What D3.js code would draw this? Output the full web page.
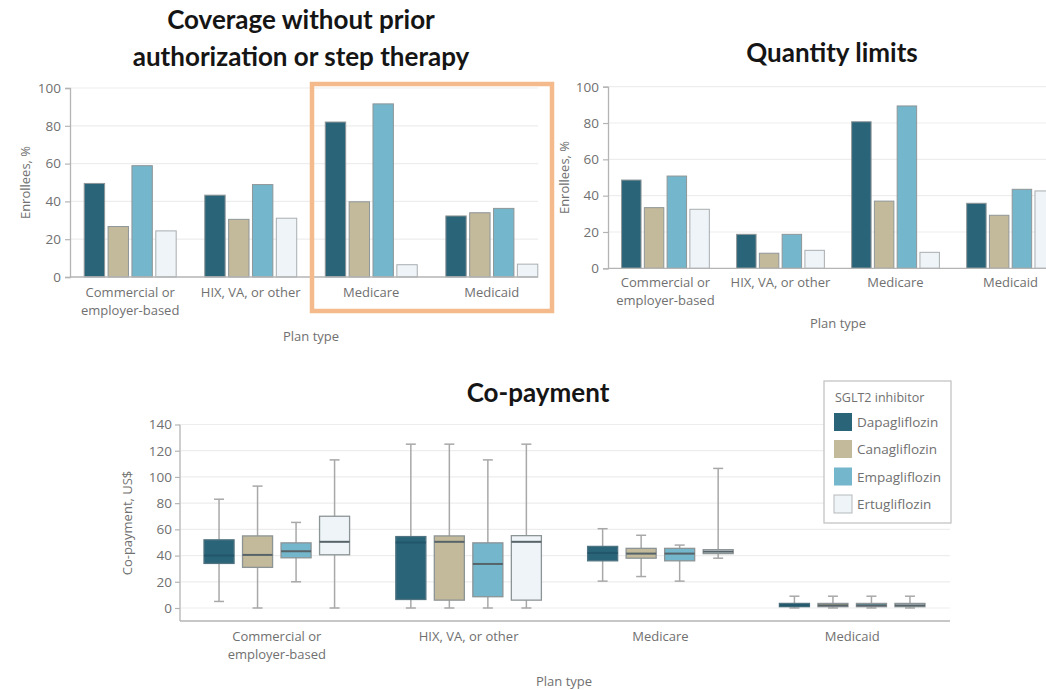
<!DOCTYPE html>
<html>
<head>
<meta charset="utf-8">
<script src="https://cdn.jsdelivr.net/npm/d3@7"></script>
<style>
  html, body { margin: 0; padding: 0; background: #fff; }
  svg { display: block; }
  .tick-label, .cat-label, .axis-title, .legend-text { font-family: "Open Sans", "Noto Sans", sans-serif; fill: #707070; }
  .panel-title { font-family: Lato, "Open Sans", sans-serif; font-weight: 700; fill: #151515; }
</style>
</head>
<body>
<svg id="chart" width="1046" height="690"></svg>
<script>
// Plan types and SGLT2 inhibitors
const plans = ["Commercial or employer-based", "HIX, VA, or other", "Medicare", "Medicaid"];
const planLabelLines = [["Commercial or", "employer-based"], ["HIX, VA, or other"], ["Medicare"], ["Medicaid"]];
const drugs = ["Dapagliflozin", "Canagliflozin", "Empagliflozin", "Ertugliflozin"];
const drugColors = ["#2a6478", "#c3b99b", "#74b6cb", "#eef4f7"];

// Coverage without prior authorization or step therapy, % of enrollees (by plan)
const coverageDapagliflozin = [49.5, 43.3, 82, 32.3];
const coverageCanagliflozin = [26.7, 30.5, 39.8, 34];
const coverageEmpagliflozin = [58.9, 48.9, 91.6, 36.3];
const coverageErtugliflozin = [24.4, 31.1, 6.5, 6.8];

// Quantity limits, % of enrollees (by plan)
const quantityDapagliflozin = [48.6, 18.7, 80.7, 35.8];
const quantityCanagliflozin = [33.4, 8.3, 37, 29.2];
const quantityEmpagliflozin = [50.8, 18.7, 89.4, 43.5];
const quantityErtugliflozin = [32.5, 9.9, 8.8, 42.6];

// Co-payment, US$: [min, Q1, median, Q3, max] for each plan
const copayDapagliflozin = [[5, 34, 40, 52, 83], [0, 6.5, 50, 54.5, 125], [20.5, 36, 42, 47, 60.5], [0, 1, 2, 3.5, 9]];
const copayCanagliflozin = [[0, 31, 40.5, 55, 93], [0, 6, 50.5, 55, 125], [24, 38, 41.5, 45.5, 55.5], [0, 1, 2, 3.5, 9]];
const copayEmpagliflozin = [[20, 38.3, 43.3, 49.7, 65.3], [0, 8.6, 33.6, 49.7, 113], [20.5, 36, 41.5, 45.5, 48], [0, 1, 2, 3.5, 9]];
const copayErtugliflozin = [[0, 40.6, 50.5, 70, 113], [0, 6, 50.5, 55.2, 125], [38, 41.5, 43, 44.5, 106.5], [0, 1, 2, 3.5, 9]];

const percentTicks = [0, 20, 40, 60, 80, 100];
const copayTicks = [0, 20, 40, 60, 80, 100, 120, 140];

const svg = d3.select("#chart");
svg.append("rect").attr("width", 1046).attr("height", 690).attr("fill", "#fff");

const axisColor = "#b4b4b4";
const gridColor = "#ededed";

// Grouped bar panel
function barPanel(opts) {
  const { xRange, yRange, gridEnd, series, labelY, planTypeY, yTitleX, tickGap } = opts;
  const g = svg.append("g");
  const x0 = d3.scaleBand().domain(plans).range(xRange).paddingInner(0.237).paddingOuter(0.118);
  const x1 = d3.scaleBand().domain(drugs).range([0, x0.bandwidth()]).paddingInner(0.145).paddingOuter(0);
  const y = d3.scaleLinear().domain([0, 100]).range(yRange);
  const left = xRange[0];

  // gridlines
  g.selectAll("line.grid").data(percentTicks.slice(1)).join("line")
    .attr("x1", left + 1).attr("x2", gridEnd)
    .attr("y1", d => y(d)).attr("y2", d => y(d))
    .attr("stroke", gridColor).attr("stroke-width", 1.2);

  // bars
  const rows = plans.map((p, i) => drugs.map((dname, j) => ({ plan: p, drug: dname, j, value: series[j][i] })));
  g.selectAll("g.grp").data(rows).join("g")
    .attr("transform", (d, i) => `translate(${x0(plans[i])},0)`)
    .selectAll("rect").data(d => d).join("rect")
    .attr("x", d => x1(d.drug)).attr("width", x1.bandwidth())
    .attr("y", d => y(d.value)).attr("height", d => y(0) - y(d.value))
    .attr("fill", d => drugColors[d.j])
    .attr("stroke", d => d.j === 3 ? "#a9adb0" : "#8f9698").attr("stroke-width", 1);

  // y axis
  const yAxis = d3.axisLeft(y).tickValues(percentTicks).tickSize(5).tickPadding(tickGap);
  const ya = g.append("g").attr("transform", `translate(${left},0)`).call(yAxis);
  ya.select(".domain").attr("stroke", axisColor).attr("stroke-width", 1.3);
  ya.selectAll(".tick line").attr("stroke", axisColor).attr("stroke-width", 1.2);
  ya.selectAll(".tick text").attr("class", "tick-label").attr("font-size", 13.5).style("font-family", null);

  // baseline
  g.append("line").attr("x1", left).attr("x2", gridEnd).attr("y1", y(0)).attr("y2", y(0))
    .attr("stroke", axisColor).attr("stroke-width", 1.3);

  // category labels
  plans.forEach((p, i) => {
    const cx = x0(p) + x0.bandwidth() / 2;
    planLabelLines[i].forEach((line, k) => {
      g.append("text").attr("class", "cat-label").attr("x", cx).attr("y", labelY + k * 18)
        .attr("text-anchor", "middle").attr("font-size", 13).text(line);
    });
  });
  g.append("text").attr("class", "axis-title").attr("x", (xRange[0] + xRange[1]) / 2).attr("y", planTypeY)
    .attr("text-anchor", "middle").attr("font-size", 13).text("Plan type");
  g.append("text").attr("class", "axis-title")
    .attr("transform", `translate(${yTitleX},${(yRange[0] + yRange[1]) / 2}) rotate(-90)`)
    .attr("text-anchor", "middle").attr("font-size", 13).text("Enrollees, %");
}

barPanel({
  xRange: [70, 552], yRange: [277, 88], gridEnd: 538,
  series: [coverageDapagliflozin, coverageCanagliflozin, coverageEmpagliflozin, coverageErtugliflozin],
  labelY: 297, planTypeY: 341, yTitleX: 30, tickGap: 4
});
barPanel({
  xRange: [608, 1068], yRange: [268.3, 86.7], gridEnd: 1046,
  series: [quantityDapagliflozin, quantityCanagliflozin, quantityEmpagliflozin, quantityErtugliflozin],
  labelY: 287, planTypeY: 328, yTitleX: 569, tickGap: 4
});

// Highlight frame around the Medicare and Medicaid coverage groups
svg.append("rect").attr("x", 312).attr("y", 84).attr("width", 240).attr("height", 227)
  .attr("fill", "none").attr("stroke", "#f5ba8b").attr("stroke-width", 4.5);

// Panel titles
svg.append("text").attr("class", "panel-title").attr("x", 301).attr("y", 29).attr("text-anchor", "middle")
  .attr("font-size", 26).text("Coverage without prior");
svg.append("text").attr("class", "panel-title").attr("x", 301).attr("y", 66).attr("text-anchor", "middle")
  .attr("font-size", 26).text("authorization or step therapy");
svg.append("text").attr("class", "panel-title").attr("x", 832).attr("y", 62).attr("text-anchor", "middle")
  .attr("font-size", 26).text("Quantity limits");
svg.append("text").attr("class", "panel-title").attr("x", 538).attr("y", 402).attr("text-anchor", "middle")
  .attr("font-size", 26).text("Co-payment");

// Co-payment box plots
(function () {
  const g = svg.append("g");
  const left = 180, right = 950, axisY = 621;
  const x0 = d3.scaleBand().domain(plans).range([181, 948]).paddingInner(0.241).paddingOuter(0.12);
  const x1 = d3.scaleBand().domain(drugs).range([0, x0.bandwidth()]).paddingInner(0.22).paddingOuter(0);
  const y = d3.scaleLinear().domain([0, 140]).range([608, 424.5]);
  const copay = [copayDapagliflozin, copayCanagliflozin, copayEmpagliflozin, copayErtugliflozin];

  g.selectAll("line.grid").data(copayTicks).join("line")
    .attr("x1", left + 1).attr("x2", right)
    .attr("y1", d => y(d)).attr("y2", d => y(d))
    .attr("stroke", gridColor).attr("stroke-width", 1.2);

  const boxes = [];
  plans.forEach((p, i) => drugs.forEach((dn, j) => {
    const s = copay[j][i];
    boxes.push({ plan: p, drug: dn, j, min: s[0], q1: s[1], med: s[2], q3: s[3], max: s[4] });
  }));

  const bg = g.selectAll("g.box").data(boxes).join("g")
    .attr("transform", d => `translate(${x0(d.plan) + x1(d.drug)},0)`);
  const bw = x1.bandwidth();
  const capW = 10;
  const whiskerColor = "#a8a8a8";
  bg.append("line").attr("x1", bw / 2).attr("x2", bw / 2)
    .attr("y1", d => y(d.max)).attr("y2", d => y(d.min))
    .attr("stroke", whiskerColor).attr("stroke-width", 1.5);
  bg.append("line").attr("x1", bw / 2 - capW / 2).attr("x2", bw / 2 + capW / 2)
    .attr("y1", d => y(d.max)).attr("y2", d => y(d.max))
    .attr("stroke", whiskerColor).attr("stroke-width", 1.5);
  bg.append("line").attr("x1", bw / 2 - capW / 2).attr("x2", bw / 2 + capW / 2)
    .attr("y1", d => y(d.min)).attr("y2", d => y(d.min))
    .attr("stroke", whiskerColor).attr("stroke-width", 1.5);
  bg.append("rect").attr("x", 0).attr("width", bw)
    .attr("y", d => y(d.q3)).attr("height", d => y(d.q1) - y(d.q3))
    .attr("fill", d => drugColors[d.j])
    .attr("stroke", d => d.j === 0 ? "#4f7380" : "#8d9496").attr("stroke-width", 1.3);
  bg.append("line").attr("x1", 0).attr("x2", bw)
    .attr("y1", d => y(d.med)).attr("y2", d => y(d.med))
    .attr("stroke", d => d.j === 0 ? "#22566a" : "#56646a").attr("stroke-width", 2);

  // axes
  const yAxis = d3.axisLeft(y).tickValues(copayTicks).tickSize(5).tickPadding(3);
  const ya = g.append("g").attr("transform", `translate(${left},0)`).call(yAxis);
  ya.select(".domain").remove();
  ya.selectAll(".tick line").attr("stroke", axisColor).attr("stroke-width", 1.2);
  ya.selectAll(".tick text").attr("class", "tick-label").attr("font-size", 13.5).style("font-family", null);
  g.append("line").attr("x1", left).attr("x2", left).attr("y1", y(140)).attr("y2", axisY)
    .attr("stroke", axisColor).attr("stroke-width", 1.3);
  g.append("line").attr("x1", left).attr("x2", right).attr("y1", axisY).attr("y2", axisY)
    .attr("stroke", axisColor).attr("stroke-width", 1.5);

  plans.forEach((p, i) => {
    const cx = x0(p) + x0.bandwidth() / 2;
    planLabelLines[i].forEach((line, k) => {
      g.append("text").attr("class", "cat-label").attr("x", cx).attr("y", 641 + k * 18)
        .attr("text-anchor", "middle").attr("font-size", 13).text(line);
    });
  });
  g.append("text").attr("class", "axis-title").attr("x", 564).attr("y", 686)
    .attr("text-anchor", "middle").attr("font-size", 13).text("Plan type");
  g.append("text").attr("class", "axis-title")
    .attr("transform", `translate(132,523) rotate(-90)`)
    .attr("text-anchor", "middle").attr("font-size", 13).text("Co-payment, US$");

  // legend
  const lg = svg.append("g").attr("transform", "translate(824,381)");
  lg.append("rect").attr("width", 127).attr("height", 142).attr("fill", "#fff")
    .attr("stroke", "#c4c4c4").attr("stroke-width", 1.3);
  lg.append("text").attr("class", "legend-text").attr("x", 11).attr("y", 20.5)
    .attr("font-size", 12.5).text("SGLT2 inhibitor");
  const rowsY = [41, 68, 95.5, 123];
  drugs.forEach((dn, j) => {
    lg.append("rect").attr("x", 10).attr("y", rowsY[j] - 9).attr("width", 18).attr("height", 18)
      .attr("fill", drugColors[j]).attr("stroke", j === 3 ? "#b5b9bb" : "none").attr("stroke-width", 1);
    lg.append("text").attr("class", "legend-text").attr("x", 33).attr("y", rowsY[j] + 5)
      .attr("font-size", 13.5).text(dn);
  });
})();
</script>
</body>
</html>
